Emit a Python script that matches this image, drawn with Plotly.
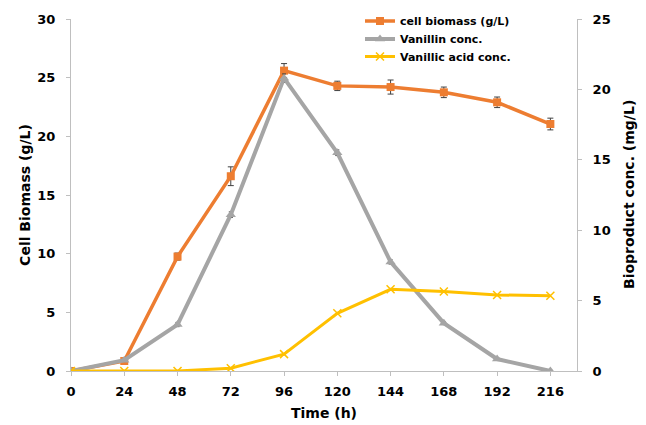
import plotly.graph_objects as go

time_h = [0, 24, 48, 72, 96, 120, 144, 168, 192, 216]
biomass = [0, 0.85, 9.75, 16.6, 25.6, 24.3, 24.2, 23.75, 22.9, 21.05]
biomass_err = [0.1, 0.15, 0.3, 0.8, 0.6, 0.4, 0.6, 0.45, 0.45, 0.5]
vanillin = [0, 0.77, 3.3, 11.1, 20.8, 15.5, 7.75, 3.4, 0.85, 0]
vanillin_err = [0.05, 0.1, 0.15, 0.2, 0.3, 0.2, 0.15, 0.1, 0.1, 0.05]
vanillic = [0, 0, 0, 0.2, 1.2, 4.1, 5.8, 5.65, 5.4, 5.35]
x_ticks = [0, 24, 48, 72, 96, 120, 144, 168, 192, 216]

ORANGE = "#ED7D31"
GRAY = "#A5A5A5"
YELLOW = "#FFC000"
FONT = "DejaVu Sans, Verdana, sans-serif"

fig = go.Figure()
fig.add_trace(go.Scatter(
    x=time_h, y=biomass, name="<b>cell biomass (g/L)</b>", mode="lines+markers",
    line=dict(color=ORANGE, width=3.5),
    marker=dict(symbol="square", size=8, color=ORANGE),
    error_y=dict(type="data", array=biomass_err, color="#404040", thickness=1, width=3),
    yaxis="y", legend="legend"))
fig.add_trace(go.Scatter(
    x=time_h, y=vanillin, name="<b>Vanillin conc.</b>", mode="lines+markers",
    line=dict(color=GRAY, width=4),
    marker=dict(symbol="triangle-up", size=9, color=GRAY),
    error_y=dict(type="data", array=vanillin_err, color="#404040", thickness=1, width=2),
    yaxis="y2", legend="legend2"))
fig.add_trace(go.Scatter(
    x=time_h, y=vanillic, name="<b>Vanillic acid conc.</b>", mode="lines+markers",
    line=dict(color=YELLOW, width=3),
    marker=dict(symbol="x-thin", size=8, color=YELLOW, line=dict(color=YELLOW, width=1.5)),
    yaxis="y2", legend="legend3"))

axis_common = dict(showgrid=False, zeroline=False, showline=True, linecolor="#BFBFBF",
                   linewidth=1, ticks="outside", tickcolor="#BFBFBF", ticklen=4,
                   automargin=False,
                   tickfont=dict(family=FONT, size=13, color="black", weight="bold"))
title_font = dict(family=FONT, size=14, color="black")


def legend_at(ypix):
    return dict(xref="container", yref="container", x=360 / 646, y=1 - ypix / 425,
                xanchor="left", yanchor="middle",
                font=dict(family=FONT, size=11, color="black"),
                bgcolor="rgba(0,0,0,0)", itemwidth=30)


fig.update_layout(
    width=646, height=425,
    margin=dict(l=71, r=69, t=19, b=54, autoexpand=False),
    paper_bgcolor="white", plot_bgcolor="white",
    font=dict(family=FONT, color="black"),
    showlegend=True,
    legend=legend_at(21),
    legend2=legend_at(39),
    legend3=legend_at(56.5),
    xaxis=dict(range=[0, 228], tickmode="array", tickvals=x_ticks,
               ticktext=[str(v) for v in x_ticks], ticklabelstandoff=4,
               title=dict(text="<b>Time (h)</b>", font=title_font, standoff=10),
               **axis_common),
    yaxis=dict(range=[0, 30], tickmode="array", tickvals=[0, 5, 10, 15, 20, 25, 30],
               ticklabelstandoff=8,
               title=dict(text="<b>Cell Biomass (g/L)</b>", font=title_font, standoff=3),
               **axis_common),
    yaxis2=dict(range=[0, 25], tickmode="array", tickvals=[0, 5, 10, 15, 20, 25],
                overlaying="y", side="right", anchor="x", ticklabelstandoff=8,
                **axis_common),
    annotations=[dict(text="<b>Bioproduct conc. (mg/L)</b>", xref="paper", yref="paper",
                      x=(629 - 71) / 506, y=0.5, xanchor="center", yanchor="middle",
                      textangle=-90, showarrow=False, font=title_font)],
)

fig.write_html("out.html")
